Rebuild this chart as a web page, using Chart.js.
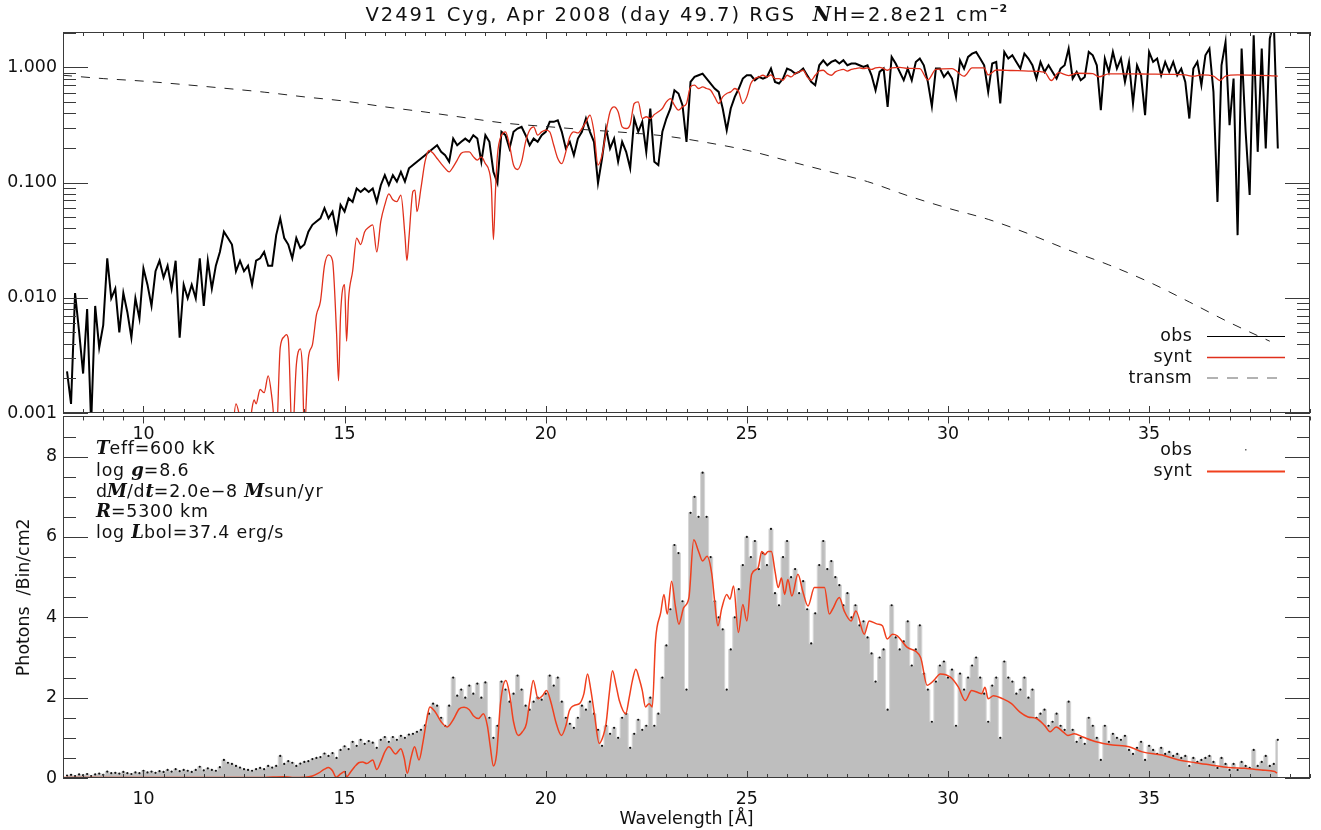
<!DOCTYPE html>
<html>
<head>
<meta charset="utf-8">
<title>V2491 Cyg RGS spectrum</title>
<script src="https://cdn.jsdelivr.net/npm/chart.js@4.4.1/dist/chart.umd.min.js"></script>
<style>
  html, body { margin: 0; padding: 0; background: #fff; }
  #wrap { position: relative; width: 1321px; height: 830px; overflow: hidden; }
  #topChart { position: absolute; left: 0; top: 0; z-index: 2; }
  #botChart { position: absolute; left: 0; top: 400px; z-index: 1; }
</style>
</head>
<body>
<div id="wrap">
  <canvas id="botChart" width="1321" height="430"></canvas>
  <canvas id="topChart" width="1321" height="445"></canvas>
</div>
<script>
// wavelength grid of the observed bins (Angstrom)
const wlStart = 8.1;
const wlStep = 0.1;

// top panel: observed spectrum, normalised
const obsNorm = [
  0.0023, 0.0012, 0.011, 0.0051, 0.0022, 0.008, 0.0008, 0.0085, 0.0037, 0.0058,
  0.022, 0.0099, 0.012, 0.005, 0.011, 0.0075, 0.0045, 0.0099, 0.0066, 0.018,
  0.013, 0.0085, 0.017, 0.021, 0.015, 0.019, 0.012, 0.021, 0.0045, 0.013,
  0.0099, 0.013, 0.0099, 0.022, 0.0085, 0.021, 0.012, 0.019, 0.025, 0.0375,
  0.033, 0.029, 0.017, 0.021, 0.017, 0.019, 0.013, 0.021, 0.022, 0.025,
  0.019, 0.019, 0.035, 0.049, 0.033, 0.029, 0.022, 0.033, 0.027, 0.029,
  0.0375, 0.043, 0.046, 0.049, 0.060, 0.049, 0.056, 0.0375, 0.064, 0.056,
  0.073, 0.068, 0.089, 0.083, 0.089, 0.083, 0.089, 0.068, 0.095, 0.116,
  0.095, 0.116, 0.102, 0.124, 0.102, 0.133, 0.142, 0.152, 0.162, 0.173,
  0.185, 0.198, 0.211, 0.185, 0.173, 0.152, 0.241, 0.211, 0.226, 0.241,
  0.226, 0.258, 0.241, 0.152, 0.258, 0.226, 0.124, 0.099, 0.276, 0.258,
  0.198, 0.276, 0.295, 0.305, 0.258, 0.211, 0.241, 0.226, 0.258, 0.276,
  0.337, 0.337, 0.348, 0.276, 0.198, 0.226, 0.173, 0.241, 0.276, 0.36,
  0.276, 0.226, 0.099, 0.162, 0.295, 0.198, 0.241, 0.152, 0.226, 0.185,
  0.133, 0.36, 0.276, 0.337, 0.185, 0.44, 0.152, 0.142, 0.276, 0.36,
  0.44, 0.634, 0.594, 0.47, 0.226, 0.749, 0.827, 0.855, 0.884, 0.80,
  0.725, 0.656, 0.613, 0.44, 0.285, 0.44, 0.555, 0.656, 0.80, 0.855,
  0.855, 0.774, 0.827, 0.80, 0.827, 0.977, 0.749, 0.725, 0.80, 0.977,
  0.945, 0.884, 0.914, 0.977, 0.855, 0.749, 0.701, 1.044, 1.154, 1.044,
  1.116, 1.154, 1.08, 1.154, 1.044, 1.08, 1.08, 1.044, 1.01, 1.044,
  0.855, 0.634, 0.914, 0.977, 0.455, 1.233, 1.08, 0.914, 0.774, 0.977,
  0.774, 1.116, 1.193, 1.044, 0.749, 0.46, 0.977, 0.977, 0.827, 0.914,
  0.80, 0.555, 1.154, 0.977, 1.233, 1.318, 1.362, 1.193, 1.044, 0.613,
  1.08, 1.116, 0.486, 1.362, 1.193, 1.275, 1.116, 0.977, 1.318, 1.193,
  1.044, 0.80, 1.116, 0.914, 1.044, 0.914, 0.80, 0.977, 1.044, 1.457,
  0.80, 0.914, 0.774, 0.827, 1.362, 1.275, 1.044, 0.426, 1.193, 0.914,
  1.362, 0.977, 1.193, 0.749, 1.116, 0.486, 1.044, 0.855, 0.385, 1.362,
  1.116, 1.193, 0.855, 1.116, 0.914, 1.116, 0.855, 0.977, 0.749, 0.36,
  0.977, 1.116, 0.701, 1.275, 1.457, 0.613, 0.068, 1.044, 1.66, 0.315,
  0.80, 0.035, 1.457, 0.276, 0.078, 1.90, 0.185, 1.457, 0.198, 1.78,
  2.5, 0.198
];

// bottom panel: observed photons per bin
const obsCounts = [
  0.06, 0.08, 0.05, 0.09, 0.07, 0.10, 0.05, 0.09, 0.11, 0.08,
  0.16, 0.12, 0.13, 0.11, 0.15, 0.12, 0.10, 0.14, 0.12, 0.18,
  0.14, 0.16, 0.13, 0.17, 0.15, 0.20, 0.16, 0.22, 0.17, 0.20,
  0.18, 0.15, 0.20, 0.28, 0.19, 0.24, 0.20, 0.18, 0.27, 0.45,
  0.38, 0.35, 0.30, 0.26, 0.22, 0.20, 0.18, 0.22, 0.25, 0.22,
  0.30, 0.26, 0.30, 0.55, 0.35, 0.42, 0.38, 0.30, 0.36, 0.40,
  0.42, 0.47, 0.50, 0.52, 0.61, 0.55, 0.62, 0.50, 0.70, 0.79,
  0.72, 0.90, 0.80, 0.95, 0.85, 0.92, 0.88, 0.75, 0.95, 1.02,
  0.90, 1.02, 0.95, 1.05, 1.00, 1.08, 1.10, 1.15, 1.20, 1.31,
  1.60, 1.85, 1.80, 1.50, 1.30, 1.80, 2.50, 2.05, 2.20, 2.00,
  2.30, 2.10, 2.35, 2.00, 2.38, 1.50, 1.00, 1.30, 2.40, 2.20,
  1.90, 2.10, 2.55, 2.20, 1.80, 1.70, 1.90, 2.00, 1.95, 2.10,
  2.55, 2.30, 2.50, 1.90, 1.50, 1.35, 1.25, 1.50, 1.80, 1.70,
  1.90, 1.60, 1.20, 0.80, 1.30, 1.10, 1.25, 1.00, 1.50, 1.60,
  0.75, 1.10, 1.45, 1.20, 1.30, 2.00, 1.30, 1.60, 2.50, 3.30,
  4.20, 5.80, 5.60, 4.40, 2.20, 6.60, 7.00, 6.50, 7.60, 6.50,
  5.50, 4.40, 4.00, 3.70, 2.20, 3.20, 4.00, 4.70, 5.30, 6.00,
  5.50, 5.90, 5.20, 5.60, 5.30, 6.20, 4.60, 4.30, 5.50, 5.90,
  5.00, 5.20, 4.60, 4.90, 4.20, 3.35, 4.10, 5.30, 5.90, 5.20,
  5.40, 5.00, 4.80, 4.30, 4.60, 4.00, 4.30, 3.80, 3.90, 3.50,
  3.10, 2.40, 3.00, 3.20, 1.70, 4.30, 3.50, 3.20, 3.40, 3.90,
  2.80, 3.20, 3.80, 2.60, 2.20, 1.40, 2.40, 2.80, 2.90, 2.50,
  2.70, 1.30, 2.60, 2.20, 2.50, 2.80, 3.00, 2.50, 2.10, 1.40,
  2.30, 2.50, 1.00, 2.90, 2.50, 2.40, 2.10, 2.20, 2.50, 2.00,
  2.20, 1.50, 1.60, 1.70, 1.30, 1.40, 1.60, 1.30, 1.20, 1.90,
  1.20, 0.90, 1.00, 0.85, 1.50, 1.30, 1.00, 0.45, 1.30, 0.90,
  1.10, 1.00, 0.95, 1.05, 0.70, 0.60, 0.75, 0.90, 0.45, 0.80,
  0.70, 0.60, 0.75, 0.60, 0.65, 0.55, 0.60, 0.50, 0.55, 0.30,
  0.50, 0.40, 0.45, 0.50, 0.55, 0.40, 0.25, 0.50, 0.35, 0.20,
  0.35, 0.20, 0.40, 0.30, 0.25, 0.70, 0.30, 0.40, 0.55, 0.30,
  0.35, 0.95
];

// ISM transmission (dashed)
const transmWave = [8, 9, 10, 11, 12, 13, 14, 15, 16, 17, 18, 19, 20, 21, 22, 23,
  24, 25, 26, 27, 28, 29, 30, 31, 32, 33, 34, 35, 36, 37, 38];
const transmFlux = [0.855, 0.80, 0.76, 0.71, 0.66, 0.61, 0.555, 0.51, 0.455, 0.41, 0.366,
  0.328, 0.307, 0.288, 0.272, 0.253, 0.223, 0.191, 0.155, 0.126, 0.102, 0.077, 0.060,
  0.048, 0.036, 0.026, 0.0193, 0.0137, 0.0092, 0.0061, 0.0042];

// synthetic spectrum, top panel [wavelength, normalised flux]
const syntTop = [
  [12.2,0.0006],[12.3,0.0012],[12.4,0.0009],[12.5,0.0006],[12.6,0.0006],[12.7,0.0011],[12.75,0.0013],
  [12.8,0.0012],[12.9,0.0016],[13.0,0.0015],[13.1,0.0021],[13.2,0.0013],[13.3,0.0006],[13.4,0.0037],
  [13.5,0.0046],[13.55,0.0048],[13.6,0.0044],[13.7,0.0006],[13.8,0.0026],[13.9,0.0036],[13.95,0.0025],
  [14.0,0.0007],[14.1,0.003],[14.2,0.0039],[14.3,0.0071],[14.4,0.0093],[14.5,0.019],[14.6,0.0236],
  [14.7,0.021],[14.8,0.005],[14.85,0.0019],[14.9,0.0071],[15.0,0.013],[15.05,0.0042],[15.1,0.0099],
  [15.2,0.017],[15.3,0.033],[15.4,0.029],[15.5,0.0375],[15.6,0.041],[15.7,0.043],[15.8,0.025],
  [15.9,0.046],[16.0,0.064],[16.1,0.08],[16.2,0.071],[16.3,0.0685],[16.4,0.078],[16.5,0.035],
  [16.55,0.021],[16.6,0.033],[16.7,0.084],[16.75,0.086],[16.8,0.056],[16.9,0.09],[17.0,0.152],
  [17.1,0.19],[17.2,0.18],[17.3,0.162],[17.4,0.146],[17.5,0.133],[17.6,0.124],[17.7,0.137],
  [17.8,0.157],[17.9,0.18],[18.0,0.185],[18.1,0.185],[18.2,0.168],[18.3,0.157],[18.4,0.167],
  [18.5,0.146],[18.6,0.124],[18.65,0.09],[18.7,0.032],[18.75,0.083],[18.8,0.173],[18.9,0.258],
  [19.0,0.276],[19.1,0.211],[19.2,0.142],[19.3,0.13],[19.4,0.152],[19.5,0.226],[19.6,0.285],
  [19.7,0.305],[19.8,0.258],[19.9,0.276],[20.0,0.285],[20.1,0.276],[20.2,0.211],[20.3,0.162],
  [20.4,0.146],[20.5,0.185],[20.6,0.25],[20.7,0.276],[20.8,0.27],[20.9,0.295],[21.0,0.337],
  [21.1,0.385],[21.2,0.276],[21.3,0.142],[21.4,0.173],[21.5,0.276],[21.6,0.412],[21.7,0.455],
  [21.8,0.412],[21.9,0.305],[22.0,0.295],[22.1,0.32],[22.2,0.486],[22.3,0.503],[22.4,0.36],
  [22.5,0.373],[22.6,0.36],[22.7,0.39],[22.8,0.412],[22.9,0.44],[23.0,0.503],[23.1,0.537],
  [23.2,0.47],[23.3,0.426],[23.4,0.455],[23.5,0.486],[23.6,0.678],[23.7,0.701],[23.8,0.656],
  [23.9,0.678],[24.0,0.656],[24.1,0.634],[24.2,0.555],[24.3,0.486],[24.4,0.555],[24.5,0.594],
  [24.6,0.613],[24.7,0.656],[24.8,0.613],[24.9,0.486],[25.0,0.555],[25.1,0.725],[25.2,0.8],
  [25.3,0.827],[25.4,0.855],[25.5,0.827],[25.6,0.86],[25.7,0.8],[25.8,0.8],[25.9,0.774],
  [26.0,0.855],[26.1,0.827],[26.2,0.884],[26.3,0.914],[26.4,0.945],[26.5,0.827],[26.6,0.774],
  [26.7,0.855],[26.8,0.93],[26.9,0.945],[27.0,0.884],[27.1,0.855],[27.2,0.914],[27.3,0.945],
  [27.4,0.96],[27.5,0.93],[27.6,0.96],[27.7,0.977],[27.8,0.99],[27.9,0.977],[28.0,0.99],
  [28.1,0.96],[28.2,0.99],[28.3,1.0],[28.4,0.977],[28.5,0.945],[28.6,0.99],[28.8,1.0],
  [29.0,0.98],[29.3,0.977],[29.5,0.78],[29.7,0.96],[30.1,0.977],[30.4,0.84],[30.6,0.99],
  [30.9,0.99],[31.0,0.86],[31.2,0.95],[31.6,0.94],[32.0,0.93],[32.4,0.91],[32.57,0.77],
  [32.75,0.9],[33.0,0.85],[33.2,0.89],[33.6,0.885],[33.75,0.83],[34.0,0.88],[34.5,0.88],
  [35.0,0.875],[35.5,0.87],[35.9,0.86],[36.1,0.84],[36.3,0.86],[36.6,0.84],[36.76,0.77],
  [36.9,0.84],[37.2,0.86],[37.6,0.855],[38.0,0.85],[38.2,0.84]
];

// synthetic spectrum, bottom panel [wavelength, photons/bin/cm2]
const syntBottom = [
  [8.0,0.01],[10.0,0.01],[12.0,0.01],[13.0,0.015],[13.5,0.03],[13.7,0.015],[14.0,0.02],[14.2,0.05],
  [14.35,0.12],[14.5,0.22],[14.6,0.26],[14.7,0.18],[14.79,0.02],[14.9,0.1],[15.0,0.16],[15.05,0.03],
  [15.15,0.15],[15.25,0.28],[15.35,0.38],[15.45,0.4],[15.55,0.36],[15.7,0.45],[15.8,0.21],[15.9,0.4],
  [16.0,0.65],[16.1,0.78],[16.27,0.6],[16.4,0.73],[16.48,0.5],[16.56,0.12],[16.65,0.5],[16.74,0.78],
  [16.85,0.45],[16.95,0.9],[17.05,1.5],[17.12,1.77],[17.25,1.65],[17.4,1.4],[17.55,1.27],[17.7,1.45],
  [17.85,1.72],[17.97,1.76],[18.1,1.7],[18.2,1.55],[18.33,1.48],[18.45,1.6],[18.55,1.3],[18.62,0.8],
  [18.7,0.3],[18.78,0.6],[18.88,1.9],[19.01,2.43],[19.1,2.1],[19.2,1.4],[19.32,1.06],[19.42,1.15],
  [19.52,1.35],[19.6,1.9],[19.69,2.43],[19.81,1.97],[19.92,2.05],[20.02,2.18],[20.14,1.85],[20.25,1.4],
  [20.39,1.06],[20.5,1.3],[20.59,1.68],[20.72,1.81],[20.84,1.85],[20.95,2.1],[21.04,2.59],[21.12,2.2],
  [21.21,1.6],[21.33,0.86],[21.43,1.05],[21.5,1.35],[21.58,2.1],[21.66,2.67],[21.75,2.3],[21.83,1.93],
  [21.99,1.6],[22.07,1.97],[22.15,2.4],[22.24,2.71],[22.33,2.45],[22.4,2.18],[22.48,1.77],[22.57,1.85],
  [22.65,1.77],[22.73,3.42],[22.86,4.12],[22.94,4.57],[23.02,4.08],[23.13,4.9],[23.22,4.3],[23.31,3.83],
  [23.43,4.24],[23.56,4.49],[23.68,5.93],[23.8,5.64],[23.9,5.4],[24.01,5.52],[24.13,5.07],[24.2,4.4],
  [24.28,3.79],[24.38,4.24],[24.5,4.57],[24.58,4.45],[24.67,4.78],[24.79,3.62],[24.9,4.32],[25.0,3.91],
  [25.12,5.07],[25.28,5.23],[25.37,5.64],[25.45,5.56],[25.53,5.64],[25.61,5.64],[25.7,5.15],[25.78,4.74],
  [25.86,4.98],[25.94,4.57],[26.02,4.94],[26.12,4.53],[26.27,5.07],[26.39,4.65],[26.52,4.28],[26.68,4.74],
  [26.93,4.74],[27.05,4.08],[27.13,4.2],[27.3,4.49],[27.42,4.16],[27.59,3.91],[27.71,4.16],[27.92,3.58],
  [28.04,3.91],[28.25,3.83],[28.37,3.79],[28.49,3.46],[28.62,3.58],[28.74,3.54],[28.99,3.25],[29.32,3.0],
  [29.48,2.31],[29.65,2.43],[29.81,2.59],[30.06,2.51],[30.26,2.26],[30.43,1.93],[30.59,2.18],[30.84,2.1],
  [30.92,2.26],[31.0,1.97],[31.13,2.05],[31.37,1.97],[31.58,1.85],[31.79,1.64],[31.99,1.52],[32.2,1.48],
  [32.4,1.31],[32.54,1.15],[32.69,1.27],[32.86,1.15],[32.98,1.06],[33.14,1.1],[33.35,1.02],[33.68,0.9],
  [34.09,0.82],[34.5,0.78],[34.83,0.65],[35.32,0.57],[35.74,0.45],[36.15,0.38],[36.56,0.32],[36.97,0.26],
  [37.38,0.24],[37.79,0.2],[38.12,0.16],[38.18,0.12]
];

// labelled ticks
const waveTickLabels = [10, 15, 20, 25, 30, 35];
const normTickLabels = [0.001, 0.01, 0.1, 1];
const countTickLabels = [0, 2, 4, 6, 8];

const SANS = "'DejaVu Sans', sans-serif";
const SERIF_BI = "bold italic 18px 'DejaVu Serif', serif";
const RED_TOP = '#e0301c';
const RED_BOT = '#f0401e';

Chart.defaults.font.family = SANS;
Chart.defaults.font.size = 17.4;
Chart.defaults.color = '#111';

const near = (a, b) => Math.abs(a - b) < 1e-6;
const wave = obsNorm.map((_, i) => +(wlStart + i * wlStep).toFixed(2));

// draw text runs with a bit of extra letter spacing (IDL look)
function runsWidth(ctx, runs) {
  let w = 0;
  runs.forEach(r => {
    ctx.font = r.font;
    for (const ch of r.text) w += ctx.measureText(ch).width + (r.sp || 0);
  });
  return w;
}
function drawRuns(ctx, runs, x, y, align) {
  if (align === 'center') x -= runsWidth(ctx, runs) / 2;
  if (align === 'right') x -= runsWidth(ctx, runs);
  ctx.textAlign = 'left';
  ctx.textBaseline = 'middle';
  runs.forEach(r => {
    ctx.font = r.font;
    for (const ch of r.text) {
      ctx.fillText(ch, x, y + (r.dy || 0));
      x += ctx.measureText(ch).width + (r.sp || 0);
    }
  });
}

// IDL style frame with inward ticks on all four sides
const idlFrame = {
  id: 'idlFrame',
  afterDatasetsDraw(chart, args, opts) {
    const { ctx, chartArea: a } = chart;
    const xs = chart.scales.x, ys = chart.scales.y;
    ctx.save();
    ctx.strokeStyle = '#3a3a3a';
    ctx.lineWidth = 1;
    ctx.beginPath();
    xs.ticks.forEach(t => {
      const px = Math.round(xs.getPixelForValue(t.value)) + 0.5;
      const len = waveTickLabels.some(v => near(v, t.value)) ? 7 : 4;
      ctx.moveTo(px, a.top); ctx.lineTo(px, a.top + len);
      ctx.moveTo(px, a.bottom); ctx.lineTo(px, a.bottom - len);
    });
    opts.yTicks.forEach(([v, major]) => {
      const py = Math.round(ys.getPixelForValue(v)) + 0.5;
      const len = major ? 25 : 13;
      ctx.moveTo(a.left, py); ctx.lineTo(a.left + len, py);
      ctx.moveTo(a.right, py); ctx.lineTo(a.right - len, py);
    });
    ctx.stroke();
    ctx.strokeRect(Math.round(a.left) + 0.5, Math.round(a.top) + 0.5,
      Math.round(a.width) - 1, Math.round(a.height) - 1);
    ctx.restore();
  }
};

// log ticks 1..9 x 10^n, major at the decades
const logTicks = [];
for (let e = -3; e <= 0; e++) {
  for (let m = 1; m <= 9; m++) {
    const v = m * Math.pow(10, e);
    if (v <= 2.03) logTicks.push([v, m === 1]);
  }
}
const linTicks = [];
for (let v = 0; v <= 9; v += 0.5) linTicks.push([v, countTickLabels.includes(v)]);

const topDecor = {
  id: 'topDecor',
  afterDraw(chart) {
    const { ctx, chartArea: a } = chart;
    ctx.save();
    ctx.fillStyle = '#111';
    const tf = "19.5px " + SANS;
    drawRuns(ctx, [
      { text: 'V2491 Cyg, Apr 2008 (day 49.7) RGS  ', font: tf, sp: 2 },
      { text: 'N', font: "bold italic 20px 'DejaVu Serif', serif", sp: 2 },
      { text: 'H=2.8e21 cm', font: tf, sp: 2 },
      { text: '\u22122', font: "bold 11px " + SANS, dy: -6, sp: 0.5 }
    ], (a.left + a.right) / 2, 15.5, 'center');

    // legend
    const lf = "17.4px " + SANS;
    drawRuns(ctx, [{ text: 'obs', font: lf, sp: 0.3 }], 1192, 336, 'right');
    drawRuns(ctx, [{ text: 'synt', font: lf, sp: 0.3 }], 1192, 357, 'right');
    drawRuns(ctx, [{ text: 'transm', font: lf, sp: 0.3 }], 1192, 378, 'right');
    ctx.lineWidth = 1;
    ctx.strokeStyle = '#000';
    ctx.beginPath(); ctx.moveTo(1207, 336.5); ctx.lineTo(1285, 336.5); ctx.stroke();
    ctx.strokeStyle = RED_TOP; ctx.lineWidth = 1.3;
    ctx.beginPath(); ctx.moveTo(1207, 357.5); ctx.lineTo(1285, 357.5); ctx.stroke();
    ctx.strokeStyle = '#999'; ctx.lineWidth = 1.5;
    ctx.setLineDash([11, 9]);
    ctx.beginPath(); ctx.moveTo(1207, 378); ctx.lineTo(1277, 378); ctx.stroke();
    ctx.restore();
  }
};

const botDecor = {
  id: 'botDecor',
  afterDraw(chart) {
    const { ctx } = chart;
    const f = "17.4px " + SANS;
    ctx.save();
    ctx.fillStyle = '#111';
    const lines = [
      [{ text: 'T', font: SERIF_BI }, { text: 'eff=600 kK', font: f, sp: 0.8 }],
      [{ text: 'log ', font: f, sp: 0.8 }, { text: 'g', font: SERIF_BI }, { text: '=8.6', font: f, sp: 0.8 }],
      [{ text: 'd', font: f }, { text: 'M', font: SERIF_BI }, { text: '/d', font: f, sp: 0.8 },
       { text: 't', font: SERIF_BI }, { text: '=2.0e\u22128 ', font: f, sp: 0.8 },
       { text: 'M', font: SERIF_BI }, { text: 'sun/yr', font: f, sp: 0.8 }],
      [{ text: 'R', font: SERIF_BI }, { text: '=5300 km', font: f, sp: 0.8 }],
      [{ text: 'log ', font: f, sp: 0.8 }, { text: 'L', font: SERIF_BI }, { text: 'bol=37.4 erg/s', font: f, sp: 0.8 }]
    ];
    const ys = [49, 71, 92, 112, 133];
    lines.forEach((runs, i) => drawRuns(ctx, runs, 96, ys[i], 'left'));

    // legend
    drawRuns(ctx, [{ text: 'obs', font: f, sp: 0.3 }], 1192, 50, 'right');
    drawRuns(ctx, [{ text: 'synt', font: f, sp: 0.3 }], 1192, 71, 'right');
    ctx.fillStyle = '#666';
    ctx.fillRect(1245, 49, 1.5, 1.5);
    ctx.strokeStyle = RED_BOT; ctx.lineWidth = 2;
    ctx.beginPath(); ctx.moveTo(1207, 71.5); ctx.lineTo(1285, 71.5); ctx.stroke();
    ctx.restore();
  }
};

const xAxis = (height, extra) => Object.assign({
  type: 'linear',
  min: 8,
  max: 39,
  grid: { display: false, drawTicks: false },
  border: { display: false },
  ticks: {
    stepSize: 0.5,
    autoSkip: false,
    maxRotation: 0,
    padding: 11,
    callback: v => waveTickLabels.some(t => near(t, v)) ? String(Math.round(v)) : ''
  },
  afterFit: s => { s.height = height; }
}, extra);

// top panel
new Chart(document.getElementById('topChart').getContext('2d'), {
  type: 'line',
  data: {
    datasets: [
      {
        label: 'synt',
        data: syntTop.map(p => ({ x: p[0], y: p[1] })),
        borderColor: RED_TOP,
        borderWidth: 1.3,
        pointRadius: 0,
        cubicInterpolationMode: 'monotone',
        order: 1
      },
      {
        label: 'transm',
        data: transmWave.map((x, i) => ({ x, y: transmFlux[i] })),
        borderColor: '#222',
        borderWidth: 1,
        borderDash: [9, 9],
        pointRadius: 0,
        cubicInterpolationMode: 'monotone',
        order: 2
      },
      {
        label: 'obs',
        data: wave.map((x, i) => ({ x, y: obsNorm[i] })),
        borderColor: '#000',
        borderWidth: 2,
        pointRadius: 0,
        tension: 0,
        order: 3
      }
    ]
  },
  options: {
    responsive: false,
    animation: false,
    layout: { padding: { top: 32, right: 1, left: 0, bottom: 0 } },
    plugins: {
      legend: { display: false },
      tooltip: { enabled: false },
      idlFrame: { yTicks: logTicks }
    },
    scales: {
      x: xAxis(32, { position: 'bottom' }),
      y: {
        type: 'logarithmic',
        min: 0.001,
        max: 2.03,
        grid: { display: false, drawTicks: false },
        border: { display: false },
        ticks: {
          autoSkip: false,
          padding: 6,
          callback: v => normTickLabels.some(t => Math.abs(t - v) / t < 1e-6) ? v.toFixed(3) : ''
        },
        afterFit: s => { s.width = 63; }
      }
    }
  },
  plugins: [idlFrame, topDecor]
});

// bottom panel
new Chart(document.getElementById('botChart').getContext('2d'), {
  type: 'line',
  data: {
    datasets: [
      {
        label: 'synt',
        data: syntBottom.map(p => ({ x: p[0], y: p[1] })),
        borderColor: RED_BOT,
        borderWidth: 1.5,
        pointRadius: 0,
        cubicInterpolationMode: 'monotone',
        order: 1
      },
      {
        label: 'obs',
        data: wave.map((x, i) => ({ x, y: obsCounts[i] })),
        stepped: 'middle',
        fill: 'origin',
        backgroundColor: '#bebebe',
        borderColor: '#d6d6d6',
        borderWidth: 1,
        pointRadius: 1.1,
        pointBorderWidth: 0,
        pointBackgroundColor: '#111',
        order: 2
      }
    ]
  },
  options: {
    responsive: false,
    animation: false,
    layout: { padding: { top: 13, right: 1, left: 0, bottom: 0 } },
    plugins: {
      legend: { display: false },
      tooltip: { enabled: false },
      idlFrame: { yTicks: linTicks }
    },
    scales: {
      x: xAxis(52, {
        position: 'bottom',
        title: { display: true, text: 'Wavelength [\u00c5]', padding: { top: 0, bottom: 0 } }
      }),
      y: {
        type: 'linear',
        min: 0,
        max: 9,
        grid: { display: false, drawTicks: false },
        border: { display: false },
        title: { display: true, text: 'Photons  /Bin/cm2', padding: { top: 14, bottom: 0 } },
        ticks: {
          stepSize: 0.5,
          autoSkip: false,
          padding: 6,
          callback: v => countTickLabels.includes(v) ? String(v) : ''
        },
        afterFit: s => { s.width = 63; }
      }
    }
  },
  plugins: [idlFrame, botDecor]
});
</script>
</body>
</html>
